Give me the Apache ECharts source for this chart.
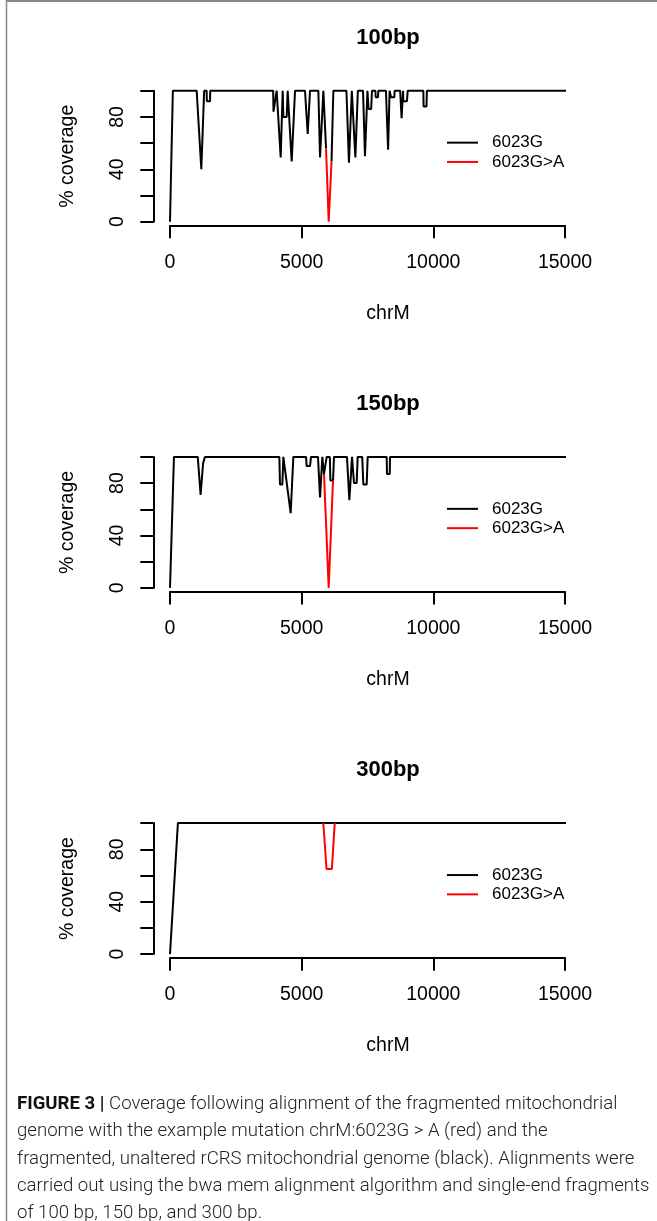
<!DOCTYPE html>
<html>
<head>
<meta charset="utf-8">
<script src="https://cdn.jsdelivr.net/npm/echarts@6/dist/echarts.min.js"></script>
<style>
html, body { margin: 0; padding: 0; background: #fff; }
#chart { width: 657px; height: 1221px; }
</style>
</head>
<body>
<div id="chart"></div>
<script>
// panel titles and legend names
var panelTitles = ['100bp', '150bp', '300bp'];
var refName = '6023G';
var mutName = '6023G>A';
var xTicks = [0, 5000, 10000, 15000];
var yTicks = [0, 20, 40, 60, 80, 100];
var yShownLabels = [0, 40, 80];

// 100bp fragments - reference (black)
var ref100Pos = [0, 108, 1013, 1189, 1297, 1392, 1400, 1520, 1527, 3918, 3930, 4000, 4051, 4203, 4279, 4305, 4431, 4469, 4621, 4748,
  5127, 5229, 5317, 5634, 5697, 5824, 5925, 6026, 6134, 6203, 6700, 6796, 6904, 6960, 7039, 7134, 7330, 7404, 7498, 7539,
  7640, 7670, 7800, 7810, 7900, 7910, 8200, 8282, 8340, 8393, 8520, 8530, 8740, 8795, 8850, 8862, 9000, 9025, 9620, 9630,
  9740, 9755, 16469, 16569];
var ref100Cov = [0, 100, 100, 40, 100, 100, 92, 92, 100, 100, 84, 84, 100, 49, 100, 80, 80, 100, 46, 100,
  100, 67, 100, 100, 49, 100, 56, null, 46, 100, 100, 45, 100, 100, 49, 100, 100, 50, 100, 86,
  86, 100, 100, 95, 95, 100, 100, 55, 100, 95, 95, 100, 100, 79, 100, 92, 92, 100, 100, 88,
  88, 100, 100, 0];
// 100bp fragments - mutant (red)
var mut100Pos = [5925, 6026, 6134];
var mut100Cov = [56, 0, 46];

// 150bp fragments - reference
var ref150Pos = [0, 150, 1054, 1162, 1256, 1324, 4152, 4177, 4266, 4304, 4582, 4684, 5165, 5190, 5317, 5355, 5620, 5697, 5785, 5848,
  5911, 5950, 6070, 6090, 6190, 6228, 6720, 6811, 6912, 6950, 6988, 7089, 7127, 7300, 7342, 7469, 7507, 8229, 8240, 8345,
  8355, 16419, 16569];
var ref150Cov = [0, 100, 100, 71, 95, 100, 100, 79, 79, 100, 57, 100, 100, 93, 93, 100, 100, 69, 100, 87,
  87, 100, 100, 82, 82, 100, 100, 67, 100, 100, 80, 80, 100, 100, 79, 79, 100, 100, 87, 87,
  100, 100, 0];
// 150bp fragments - mutant
var mut150Pos = [5848, 6026, 6190];
var mut150Cov = [87, 0, 82];

// 300bp fragments - reference
var ref300Pos = [0, 300, 16269, 16569];
var ref300Cov = [0, 100, 100, 0];
// 300bp fragments - mutant
var mut300Pos = [5823, 5944, 6147, 6255];
var mut300Cov = [100, 65, 65, 100];

var captionLines = [
  'Coverage following alignment of the fragmented mitochondrial',
  'genome with the example mutation chrM:6023G > A (red) and the',
  'fragmented, unaltered rCRS mitochondrial genome (black). Alignments were',
  'carried out using the bwa mem alignment algorithm and single-end fragments',
  'of 100 bp, 150 bp, and 300 bp.'
];

function zip(xs, ys) {
  return xs.map(function (x, i) { return [x, ys[i] === null ? '-' : ys[i]]; });
}

var panels = [
  { ref: zip(ref100Pos, ref100Cov), mut: zip(mut100Pos, mut100Cov) },
  { ref: zip(ref150Pos, ref150Cov), mut: zip(mut150Pos, mut150Cov) },
  { ref: zip(ref300Pos, ref300Cov), mut: zip(mut300Pos, mut300Cov) }
];

var font = 'Liberation Sans, Arial, sans-serif';
var step = 366.2;
var option = {
  animation: false,
  backgroundColor: '#fff',
  title: [], grid: [], xAxis: [], yAxis: [], legend: [], series: [],
  graphic: []
};

panels.forEach(function (p, k) {
  var dy = k * step;
  option.title.push({
    text: panelTitles[k], left: 388, top: 27 + dy, textAlign: 'center', padding: 0,
    textStyle: { fontSize: 22, fontWeight: 'bold', color: '#000', fontFamily: font }
  });
  option.grid.push({ left: 170, width: 395, top: 90.7 + dy, height: 131 });
  option.xAxis.push({
    gridIndex: k, type: 'value', min: xTicks[0], max: xTicks[xTicks.length - 1], interval: xTicks[1] - xTicks[0],
    offset: 3.6,
    axisLine: { onZero: false, lineStyle: { color: '#000', width: 2 } },
    axisTick: { length: 13, lineStyle: { color: '#000', width: 2 } },
    axisLabel: {
      margin: 27, fontSize: 19.5, color: '#000', fontFamily: font, showMinLabel: true, showMaxLabel: true,
      formatter: function (v) { return String(v); }
    },
    splitLine: { show: false },
    name: 'chrM', nameLocation: 'middle', nameGap: 78,
    nameTextStyle: { fontSize: 19.5, color: '#000', fontFamily: font, padding: [0, 0, 0, 41] }
  });
  option.yAxis.push({
    gridIndex: k, type: 'value', min: yTicks[0], max: yTicks[yTicks.length - 1], interval: yTicks[1] - yTicks[0],
    offset: 16.7,
    axisLine: { show: true, onZero: false, lineStyle: { color: '#000', width: 2 } },
    axisTick: { show: true, length: 13, lineStyle: { color: '#000', width: 2 } },
    axisLabel: {
      rotate: 90, margin: 26, fontSize: 19.5, color: '#000', fontFamily: font,
      formatter: function (v) { return yShownLabels.indexOf(v) >= 0 ? String(v) : ''; }
    },
    splitLine: { show: false },
    name: '% coverage', nameLocation: 'middle', nameGap: 76, nameRotate: 90,
    nameTextStyle: { fontSize: 19.5, color: '#000', fontFamily: font }
  });
  option.legend.push({
    orient: 'vertical', left: 447, top: 133 + dy, padding: 0, itemGap: 0,
    itemWidth: 31, itemHeight: 2, icon: 'rect', selectedMode: false,
    textStyle: { fontSize: 17, lineHeight: 19.3, color: '#000', fontFamily: font, padding: [0, 0, 0, 9] },
    data: [refName, mutName]
  });
  option.series.push({
    name: refName, type: 'line', xAxisIndex: k, yAxisIndex: k, data: p.ref,
    symbol: 'none', clip: false, color: '#000', z: 2,
    lineStyle: { color: '#000', width: 2 }
  });
  option.series.push({
    name: mutName, type: 'line', xAxisIndex: k, yAxisIndex: k, data: p.mut,
    symbol: 'none', clip: false, color: '#ff0000', z: 3,
    lineStyle: { color: '#ff0000', width: 2 }
  });
});

// frame lines of the figure
option.graphic.push({ type: 'line', shape: { x1: 6, y1: 1, x2: 657, y2: 1 }, style: { stroke: '#888', lineWidth: 2 }, silent: true });
option.graphic.push({ type: 'line', shape: { x1: 6.5, y1: 0, x2: 6.5, y2: 1221 }, style: { stroke: '#888', lineWidth: 1.5 }, silent: true });

// caption
captionLines.forEach(function (line, i) {
  var txt = i === 0 ? '{b|FIGURE 3 |} ' + line : line;
  option.graphic.push({
    type: 'text', left: 17, top: 1095 + i * 27.2, silent: true,
    style: {
      text: txt, fill: '#222', font: '300 18.6px Roboto, sans-serif',
      rich: { b: { fontWeight: 'bold', fontSize: 18.6, fontFamily: 'Roboto', fill: '#111' } }
    }
  });
});

var chart = echarts.init(document.getElementById('chart'));
chart.setOption(option);
</script>
</body>
</html>
